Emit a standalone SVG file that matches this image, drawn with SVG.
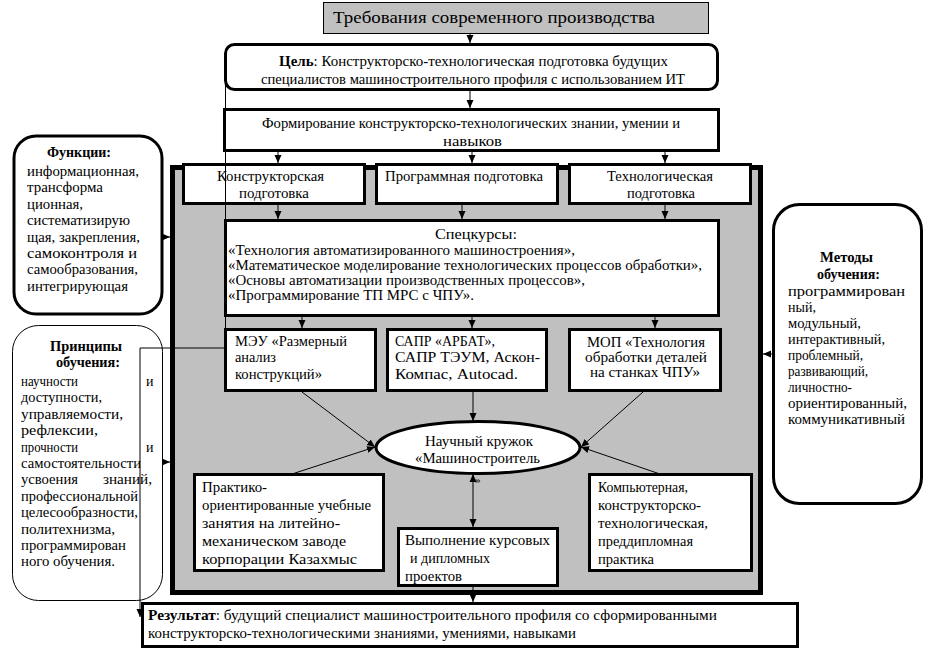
<svg xmlns="http://www.w3.org/2000/svg" width="925" height="650" viewBox="0 0 925 650">
<style>
text{font-size:14px;fill:#000}
.b{font-weight:bold}
.box{fill:#fff;stroke:#000;stroke-width:3}
.gray{fill:#c0c0c0;stroke:#000;stroke-width:1}
.cont{fill:#c0c0c0;stroke:#000;stroke-width:5}
.thin{fill:#fff;stroke:#000;stroke-width:1}
#connectors line,#connectors polyline{stroke:#000;stroke-width:1;fill:none}
</style>
<defs>
<marker id="a" viewBox="0 0 8 8" refX="8" refY="4" markerWidth="8" markerHeight="8" markerUnits="userSpaceOnUse" orient="auto-start-reverse"><path d="M0,0.5 L8,4 L0,7.5 z" fill="#000"/></marker>
</defs>
<rect width="925" height="650" fill="#fff"/>
<g font-family="Liberation Serif">
<g id="top">
<rect class="gray" x="323.5" y="2.5" width="385" height="31"/>
<text x="333" y="23" font-size="17" style="font-size:17px" textLength="322" lengthAdjust="spacingAndGlyphs">Требования современного производства</text>
</g>

<g id="goal">
<rect class="box" x="225.5" y="44.5" width="492" height="45" rx="9"/>
<text x="279" y="66" textLength="389" lengthAdjust="spacingAndGlyphs"><tspan class="b">Цель</tspan>: Конструкторско-технологическая подготовка будущих</text>
<text x="261" y="84" textLength="424" lengthAdjust="spacingAndGlyphs">специалистов машиностроительного профиля с использованием ИТ</text>
</g>

<g id="forming">
<rect class="box" x="224.5" y="109.5" width="494" height="41"/>
<text x="262" y="128" textLength="418" lengthAdjust="spacingAndGlyphs">Формирование конструкторско-технологических знании, умении и</text>
<text x="443" y="146" textLength="59" lengthAdjust="spacingAndGlyphs">навыков</text>
</g>

<g id="container">
<rect class="cont" x="172.5" y="167.5" width="588" height="425"/>
</g>

<g id="design">
<rect class="box" x="183.5" y="164.5" width="181" height="39"/>
<text x="217" y="181" textLength="107" lengthAdjust="spacingAndGlyphs">Конструкторская</text>
<text x="239" y="198" textLength="70" lengthAdjust="spacingAndGlyphs">подготовка</text>
</g>

<g id="program">
<rect class="box" x="376.5" y="164.5" width="181" height="39"/>
<text x="385" y="181" textLength="158" lengthAdjust="spacingAndGlyphs">Программная подготовка</text>
</g>

<g id="tech">
<rect class="box" x="569.5" y="164.5" width="181" height="39"/>
<text x="607" y="181" textLength="106" lengthAdjust="spacingAndGlyphs">Технологическая</text>
<text x="627" y="198" textLength="68" lengthAdjust="spacingAndGlyphs">подготовка</text>
</g>

<g id="courses">
<rect class="box" x="225.5" y="220.5" width="493" height="95"/>
<text x="435" y="239" textLength="82" lengthAdjust="spacingAndGlyphs">Спецкурсы:</text>
<text x="228" y="255" textLength="347" lengthAdjust="spacingAndGlyphs">«Технология автоматизированного машиностроения»,</text>
<text x="228" y="270" textLength="474" lengthAdjust="spacingAndGlyphs">«Математическое моделирование технологических процессов обработки»,</text>
<text x="228" y="285" textLength="357" lengthAdjust="spacingAndGlyphs">«Основы автоматизации производственных процессов»,</text>
<text x="228" y="300" textLength="246" lengthAdjust="spacingAndGlyphs">«Программирование ТП МРС с ЧПУ».</text>
</g>

<g id="meu">
<rect class="box" x="225.5" y="329.5" width="150" height="61"/>
<text x="235" y="346" textLength="112" lengthAdjust="spacingAndGlyphs">МЭУ «Размерный</text>
<text x="235" y="362" textLength="41" lengthAdjust="spacingAndGlyphs">анализ</text>
<text x="235" y="379" textLength="87" lengthAdjust="spacingAndGlyphs">конструкций»</text>
</g>

<g id="sapr">
<rect class="box" x="387.5" y="329.5" width="159" height="61"/>
<text x="395" y="346" textLength="100" lengthAdjust="spacingAndGlyphs">САПР «АРБАТ»,</text>
<text x="395" y="362" textLength="145" lengthAdjust="spacingAndGlyphs">САПР ТЭУМ, Аскон-</text>
<text x="395" y="379" textLength="123" lengthAdjust="spacingAndGlyphs">Компас, Autocad.</text>
</g>

<g id="mop">
<rect class="box" x="569.5" y="329.5" width="151" height="61"/>
<text x="587" y="347" textLength="118" lengthAdjust="spacingAndGlyphs">МОП «Технология</text>
<text x="585" y="362" textLength="122" lengthAdjust="spacingAndGlyphs">обработки деталей</text>
<text x="590" y="377" textLength="110" lengthAdjust="spacingAndGlyphs">на станках ЧПУ»</text>
</g>

<g id="club">
<ellipse cx="478" cy="447.5" rx="102" ry="26" fill="#fff" stroke="#000" stroke-width="3"/>
<text x="425" y="446" textLength="108" lengthAdjust="spacingAndGlyphs">Научный кружок</text>
<text x="415" y="463" textLength="125" lengthAdjust="spacingAndGlyphs">«Машиностроитель</text>
<text x="475" y="483" style="font-size:11px">»</text>
</g>

<g id="practice">
<rect class="box" x="194.5" y="474.5" width="189" height="96"/>
<text x="202" y="492" textLength="65" lengthAdjust="spacingAndGlyphs">Практико-</text>
<text x="202" y="510" textLength="169" lengthAdjust="spacingAndGlyphs">ориентированные учебные</text>
<text x="202" y="528" textLength="138" lengthAdjust="spacingAndGlyphs">занятия на литейно-</text>
<text x="202" y="546" textLength="144" lengthAdjust="spacingAndGlyphs">механическом заводе</text>
<text x="202" y="564" textLength="155" lengthAdjust="spacingAndGlyphs">корпорации Казахмыс</text>
</g>

<g id="projects">
<rect class="box" x="398.5" y="528.5" width="159" height="57"/>
<text x="405" y="545" textLength="145" lengthAdjust="spacingAndGlyphs">Выполнение курсовых</text>
<text x="410" y="563" textLength="80" lengthAdjust="spacingAndGlyphs">и дипломных</text>
<text x="405" y="581" textLength="57" lengthAdjust="spacingAndGlyphs">проектов</text>
</g>

<g id="computer">
<rect class="box" x="589.5" y="474.5" width="162" height="96"/>
<text x="598" y="492" textLength="90" lengthAdjust="spacingAndGlyphs">Компьютерная,</text>
<text x="598" y="510" textLength="103" lengthAdjust="spacingAndGlyphs">конструкторско-</text>
<text x="598" y="528" textLength="110" lengthAdjust="spacingAndGlyphs">технологическая,</text>
<text x="598" y="546" textLength="95" lengthAdjust="spacingAndGlyphs">преддипломная</text>
<text x="598" y="564" textLength="56" lengthAdjust="spacingAndGlyphs">практика</text>
</g>

<g id="result">
<rect class="box" x="142.5" y="603.5" width="655" height="43"/>
<text x="148" y="620" textLength="569" lengthAdjust="spacingAndGlyphs"><tspan class="b">Результат</tspan>: будущий специалист машиностроительного профиля со сформированными</text>
<text x="148" y="638" textLength="428" lengthAdjust="spacingAndGlyphs">конструкторско-технологическими знаниями, умениями, навыками</text>
</g>

<g id="functions">
<rect class="box" x="14" y="136" width="148" height="178" rx="22"/>
<text x="47" y="157" class="b" textLength="64" lengthAdjust="spacingAndGlyphs">Функции:</text>
<text x="27" y="176" textLength="112" lengthAdjust="spacingAndGlyphs">информационная,</text>
<text x="27" y="192.4" textLength="76" lengthAdjust="spacingAndGlyphs">трансформа</text>
<text x="27" y="208.8" textLength="56" lengthAdjust="spacingAndGlyphs">ционная,</text>
<text x="27" y="225.2" textLength="103" lengthAdjust="spacingAndGlyphs">систематизирую</text>
<text x="27" y="241.6" textLength="113" lengthAdjust="spacingAndGlyphs">щая, закрепления,</text>
<text x="27" y="258" textLength="110" lengthAdjust="spacingAndGlyphs">самоконтроля и</text>
<text x="27" y="274.4" textLength="111" lengthAdjust="spacingAndGlyphs">самообразования,</text>
<text x="27" y="290.8" textLength="101" lengthAdjust="spacingAndGlyphs">интегрирующая</text>
</g>

<g id="principles">
<rect class="thin" x="12.5" y="325.5" width="150" height="275" rx="26"/>
<text x="50" y="351" class="b" textLength="72" lengthAdjust="spacingAndGlyphs">Принципы</text>
<text x="56" y="367" class="b" textLength="64" lengthAdjust="spacingAndGlyphs">обучения:</text>
<text x="21" y="386" textLength="57" lengthAdjust="spacingAndGlyphs">научности</text>
<text x="146" y="386">и</text>
<text x="21" y="402.4" textLength="81" lengthAdjust="spacingAndGlyphs">доступности,</text>
<text x="21" y="418.8" textLength="102" lengthAdjust="spacingAndGlyphs">управляемости,</text>
<text x="21" y="435.2" textLength="77" lengthAdjust="spacingAndGlyphs">рефлексии,</text>
<text x="21" y="451.6" textLength="57" lengthAdjust="spacingAndGlyphs">прочности</text>
<text x="146" y="451.6">и</text>
<text x="21" y="468" textLength="120" lengthAdjust="spacingAndGlyphs">самостоятельности</text>
<text x="21" y="484.4" textLength="57" lengthAdjust="spacingAndGlyphs">усвоения</text>
<text x="103" y="484.4" textLength="49" lengthAdjust="spacingAndGlyphs">знаний,</text>
<text x="21" y="500.8" textLength="117" lengthAdjust="spacingAndGlyphs">профессиональной</text>
<text x="21" y="517.2" textLength="117" lengthAdjust="spacingAndGlyphs">целесообразности,</text>
<text x="21" y="533.6" textLength="94" lengthAdjust="spacingAndGlyphs">политехнизма,</text>
<text x="21" y="550" textLength="105" lengthAdjust="spacingAndGlyphs">программирован</text>
<text x="21" y="566.4" textLength="94" lengthAdjust="spacingAndGlyphs">ного обучения.</text>
</g>

<g id="methods">
<rect class="box" x="773.5" y="204.5" width="148" height="299" rx="26"/>
<text x="820" y="262" class="b" textLength="53" lengthAdjust="spacingAndGlyphs">Методы</text>
<text x="817" y="279" class="b" textLength="63" lengthAdjust="spacingAndGlyphs">обучения:</text>
<text x="788" y="296" textLength="117" lengthAdjust="spacingAndGlyphs">программирован</text>
<text x="788" y="312">ный,</text>
<text x="788" y="328" textLength="73" lengthAdjust="spacingAndGlyphs">модульный,</text>
<text x="788" y="344" textLength="97" lengthAdjust="spacingAndGlyphs">интерактивный,</text>
<text x="788" y="360" textLength="75" lengthAdjust="spacingAndGlyphs">проблемный,</text>
<text x="788" y="376" textLength="80" lengthAdjust="spacingAndGlyphs">развивающий,</text>
<text x="788" y="392" textLength="64" lengthAdjust="spacingAndGlyphs">личностно-</text>
<text x="788" y="408" textLength="119" lengthAdjust="spacingAndGlyphs">ориентированный,</text>
<text x="788" y="424" textLength="117" lengthAdjust="spacingAndGlyphs">коммуникативный</text>
</g>
</g>
<g id="connectors">
<line x1="470" y1="33" x2="470" y2="43" marker-end="url(#a)"/>
<line x1="470" y1="91" x2="470" y2="108" marker-end="url(#a)"/>
<line x1="278" y1="152" x2="278" y2="163" marker-end="url(#a)"/>
<line x1="472" y1="152" x2="472" y2="163" marker-end="url(#a)"/>
<line x1="665" y1="152" x2="665" y2="163" marker-end="url(#a)"/>
<line x1="278" y1="205" x2="278" y2="219" marker-end="url(#a)"/>
<line x1="462" y1="205" x2="462" y2="219" marker-end="url(#a)"/>
<line x1="665" y1="205" x2="665" y2="219" marker-end="url(#a)"/>
<line x1="302" y1="317" x2="302" y2="328" marker-end="url(#a)"/>
<line x1="472" y1="317" x2="472" y2="328" marker-end="url(#a)"/>
<line x1="655" y1="317" x2="655" y2="328" marker-end="url(#a)"/>
<line x1="473" y1="392" x2="473" y2="421" marker-end="url(#a)"/>
<line x1="302" y1="392" x2="375" y2="447" marker-end="url(#a)"/>
<line x1="643" y1="392" x2="581" y2="447" marker-end="url(#a)"/>
<line x1="292" y1="474" x2="375" y2="447" marker-end="url(#a)"/>
<line x1="660" y1="474" x2="581" y2="447" marker-end="url(#a)"/>
<line x1="473" y1="474" x2="473" y2="527" marker-start="url(#a)" marker-end="url(#a)"/>
<line x1="473" y1="587" x2="473" y2="602" marker-end="url(#a)"/>
<line x1="163" y1="237" x2="170" y2="237" marker-end="url(#a)"/>
<line x1="163" y1="462" x2="170" y2="462" marker-end="url(#a)"/>
<line x1="773" y1="354" x2="763" y2="354" marker-end="url(#a)"/>
<line x1="225.5" y1="78" x2="225.5" y2="328"/>
<polyline points="225,348 140,348 140,617" marker-end="url(#a)"/>
</g>
</svg>
